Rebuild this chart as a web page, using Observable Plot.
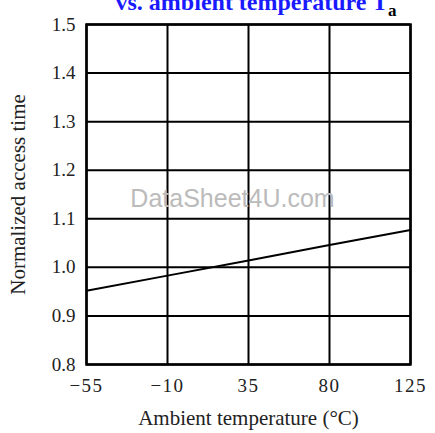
<!DOCTYPE html>
<html>
<head>
<meta charset="utf-8">
<script src="https://cdn.jsdelivr.net/npm/d3@7"></script>
<script src="https://cdn.jsdelivr.net/npm/@observablehq/plot@0.6"></script>
<style>
  html, body { margin: 0; padding: 0; background: #fff; }
  svg { font-family: "Liberation Serif", "DejaVu Serif", serif; }
</style>
</head>
<body>
<div id="chart"></div>
<script>
const temps = [-55, -10, 35, 80, 125];
const accessTime = [0.952, 0.983, 1.014, 1.046, 1.077];
const xTicks = [-55, -10, 35, 80, 125];
const yTicks = [0.8, 0.9, 1.0, 1.1, 1.2, 1.3, 1.4, 1.5];
const titleText = "vs. ambient temperature T";
const titleSub = "a";
const xLabel = "Ambient temperature (°C)";
const yLabel = "Normalized access time";
const watermark = "DataSheet4U.com";

const data = temps.map((t, i) => ({t, v: accessTime[i]}));
const fmtX = d => d < 0 ? "\u2212" + Math.abs(d) : String(d);

const chart = Plot.plot({
  width: 435,
  height: 433,
  marginLeft: 86,
  marginRight: 25,
  marginTop: 24,
  marginBottom: 69,
  style: {fontFamily: '"Liberation Serif", serif', fontSize: "19px", color: "#222", background: "#fff"},
  x: {domain: [-55, 125], label: null},
  y: {domain: [0.8, 1.5], label: null},
  marks: [
    Plot.gridX(xTicks, {stroke: "#000", strokeOpacity: 1, strokeWidth: 2}),
    Plot.gridY(yTicks, {stroke: "#000", strokeOpacity: 1, strokeWidth: 2}),
    Plot.frame({stroke: "#000", strokeWidth: 2.5}),
    Plot.text([watermark], {frameAnchor: "middle", dx: -16, dy: 4, fill: "#bbb", fontFamily: '"Liberation Sans", Arial, sans-serif', fontSize: 25}),
    Plot.line(data, {x: "t", y: "v", stroke: "#000", strokeWidth: 2}),
    Plot.axisX({ticks: xTicks, tickSize: 0, tickPadding: 14, tickFormat: fmtX, fontSize: 19, fill: "#222", label: null}),
    Plot.axisY({ticks: yTicks, tickSize: 0, tickPadding: 11, tickFormat: d3.format(".1f"), fontSize: 19, fill: "#222", label: null}),
    Plot.text([xLabel], {frameAnchor: "bottom", dy: 60, fontSize: 21, fill: "#222"}),
    Plot.text([yLabel], {frameAnchor: "left", textAnchor: "middle", dx: -68, rotate: -90, fontSize: 21, fill: "#222"})
  ]
});

const svg = d3.select(chart);
svg.selectAll("g[aria-label='x-axis tick label'] text, g[aria-label='x-axis tick label']").style("letter-spacing", "1.5px");
const t = svg.append("text")
  .attr("x", 256).attr("y", 10)
  .attr("text-anchor", "middle")
  .attr("fill", "#1a1aff")
  .attr("font-weight", "bold")
  .attr("font-size", 24)
  .attr("font-family", '"Liberation Serif", serif');
t.append("tspan").text(titleText);
t.append("tspan").attr("dy", 6).attr("font-size", 17).attr("fill", "#000").text(titleSub);

document.getElementById("chart").appendChild(chart);
</script>
</body>
</html>
